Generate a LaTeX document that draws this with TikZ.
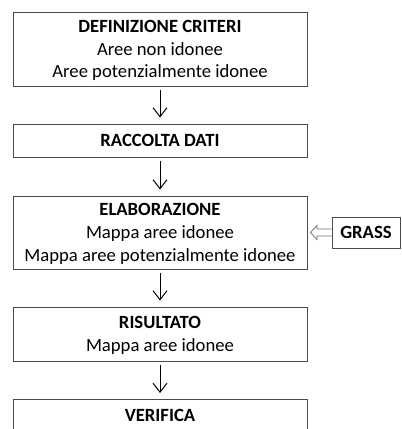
\documentclass[tikz,border=0pt]{standalone}
\usepackage{fontspec}
\setmainfont{Carlito}
\usetikzlibrary{arrows.meta,calc}

\tikzset{
  box/.style={draw=black!70, line width=0.75pt, minimum width=220.5pt, align=center, inner sep=0pt, text depth=0pt, font=\fontsize{14}{17}\selectfont},
  flow/.style={-{Straight Barb[length=6.75pt,width=10.5pt]}, line width=0.75pt, shorten <=2.25pt, shorten >=4.5pt},
  feed/.style={draw=black!55, line width=0.6pt, line join=miter, fill=white},
}

\begin{document}
\begin{tikzpicture}[x=0.75pt,y=-0.75pt]
\clip (0,0) rectangle (401,429);

\node[box, minimum height=55.5pt] (crit) at (160,49) {\textbf{DEFINIZIONE CRITERI}\\Aree non idonee\\Aree potenzialmente idonee};
\node[box, minimum height=24.75pt] (dati) at (160,140.5) {\textbf{RACCOLTA DATI}};
\node[box, minimum height=54.75pt] (elab) at (160,232.5) {\textbf{ELABORAZIONE}\\Mappa aree idonee\\Mappa aree potenzialmente idonee};
\node[box, minimum height=40.5pt] (ris) at (160,334) {\textbf{RISULTATO}\\Mappa aree idonee};
\node[box, anchor=north, inner ysep=7.5pt, text depth=30pt] (ver) at (160,399) {\textbf{VERIFICA}};

\node[box, minimum width=51pt, minimum height=23.25pt] (grass) at (366,232.5) {\textbf{GRASS}};

\draw[flow] (crit) -- (dati);
\draw[flow] (dati) -- (elab);
\draw[flow] (elab) -- (ris);
\draw[flow] (ris) -- (ver);
\draw[feed] ($(grass.west)+(0,-3.5)$) -- ($(elab.east)+(9.5,-3.5)$) -- ($(elab.east)+(9.5,-7)$)
  -- ($(elab.east)+(3,0)$) -- ($(elab.east)+(9.5,7)$) -- ($(elab.east)+(9.5,3.5)$) -- ($(grass.west)+(0,3.5)$);

\end{tikzpicture}
\end{document}
